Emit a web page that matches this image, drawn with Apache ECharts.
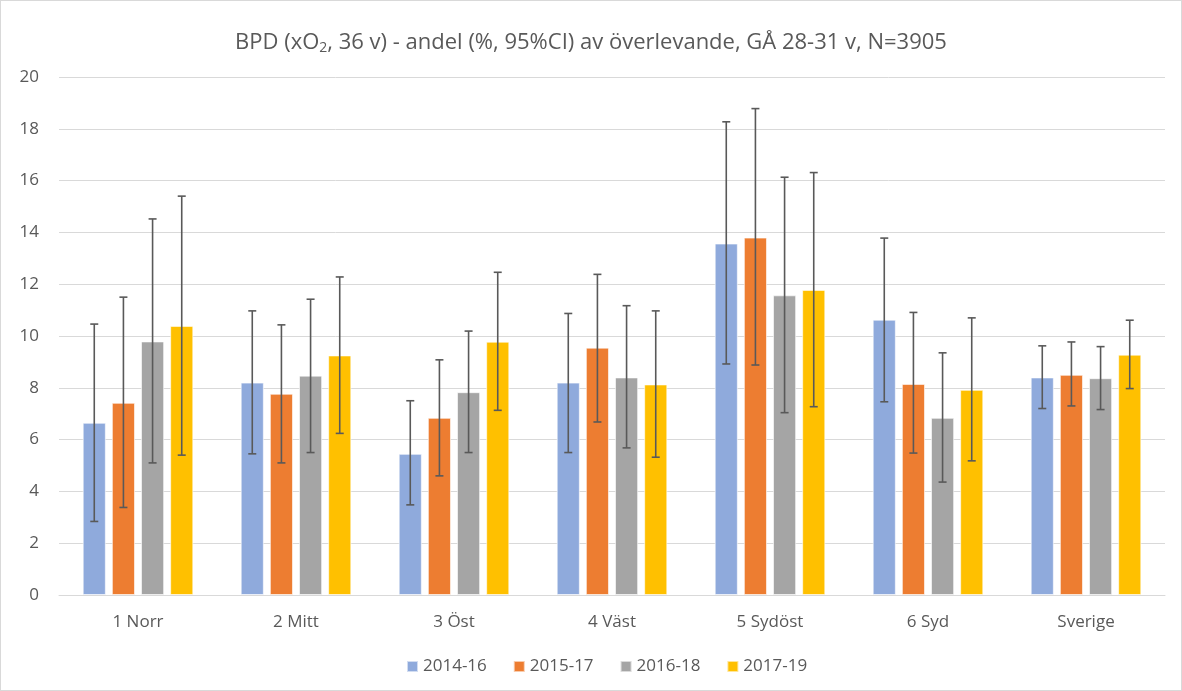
<!DOCTYPE html>
<html>
<head>
<meta charset="utf-8">
<title>BPD andel per region</title>
<script src="https://cdn.jsdelivr.net/npm/echarts@6/dist/echarts.min.js"></script>
<style>
  html, body { margin: 0; padding: 0; background: #fff; }
  #chart { width: 1182px; height: 691px; box-sizing: border-box; border: 1px solid #d9d9d9; }
</style>
</head>
<body>
<div id="chart"></div>
<script>
// Regions and reporting periods
const categories = ['1 Norr', '2 Mitt', '3 Öst', '4 Väst', '5 Sydöst', '6 Syd', 'Sverige'];
const periods = ['2014-16', '2015-17', '2016-18', '2017-19'];
const colors = ['#8faadc', '#ed7d31', '#a5a5a5', '#ffc000'];

// Share (%) per period, one value per region
const values2014 = [6.65, 8.2, 5.45, 8.2, 13.57, 10.63, 8.4];
const values2015 = [7.42, 7.77, 6.84, 9.55, 13.8, 8.15, 8.5];
const values2016 = [9.79, 8.47, 7.83, 8.4, 11.57, 6.84, 8.37];
const values2017 = [10.39, 9.25, 9.78, 8.13, 11.78, 7.92, 9.28];

// 95% CI lower bounds
const low2014 = [2.84, 5.45, 3.48, 5.5, 8.92, 7.46, 7.2];
const low2015 = [3.38, 5.1, 4.6, 6.68, 8.88, 5.48, 7.3];
const low2016 = [5.1, 5.5, 5.5, 5.68, 7.04, 4.36, 7.16];
const low2017 = [5.4, 6.24, 7.13, 5.32, 7.27, 5.18, 7.97];

// 95% CI upper bounds
const high2014 = [10.46, 10.97, 7.5, 10.87, 18.27, 13.78, 9.62];
const high2015 = [11.5, 10.43, 9.08, 12.38, 18.78, 10.91, 9.77];
const high2016 = [14.52, 11.42, 10.19, 11.17, 16.13, 9.35, 9.59];
const high2017 = [15.4, 12.28, 12.46, 10.97, 16.31, 10.7, 10.61];

// Y axis ticks
const yMin = 0, yMax = 20, yStep = 2;

const valueSets = [values2014, values2015, values2016, values2017];
const lowSets = [low2014, low2015, low2016, low2017];
const highSets = [high2014, high2015, high2016, high2017];

const FONT = 'Open Sans, Noto Sans, sans-serif';
const TEXT_COLOR = '#595959';
const CATEGORY_GAP = 0.30;   // fraction of band left empty
const BAR_GAP = 0.26;        // gap between bars, fraction of bar width

function errorRenderer(seriesIndex) {
  return function (params, api) {
    const cat = api.value(0);
    const lo = api.value(1);
    const hi = api.value(2);
    const band = api.size([1, 0])[0];
    const barW = band * (1 - CATEGORY_GAP) / (4 + 3 * BAR_GAP);
    const pitch = barW * (1 + BAR_GAP);
    const offset = (seriesIndex - 1.5) * pitch;
    const pLo = api.coord([cat, lo]);
    const pHi = api.coord([cat, hi]);
    const x = pLo[0] + offset;
    const cap = 4;
    const style = { stroke: '#595959', lineWidth: 1.6 };
    return {
      type: 'group',
      children: [
        { type: 'line', shape: { x1: x, y1: pHi[1], x2: x, y2: pLo[1] }, style: style },
        { type: 'line', shape: { x1: x - cap, y1: pHi[1], x2: x + cap, y2: pHi[1] }, style: style },
        { type: 'line', shape: { x1: x - cap, y1: pLo[1], x2: x + cap, y2: pLo[1] }, style: style }
      ]
    };
  };
}

const barSeries = periods.map((name, i) => ({
  name: name,
  type: 'bar',
  data: valueSets[i],
  barGap: (BAR_GAP * 100) + '%',
  barCategoryGap: (CATEGORY_GAP * 100) + '%',
  itemStyle: { color: colors[i], borderColor: 'rgba(255,255,255,0.6)', borderWidth: 1 },
  emphasis: { disabled: true },
  z: 2
}));

const errorSeries = periods.map((name, i) => ({
  name: name + ' CI',
  type: 'custom',
  renderItem: errorRenderer(i),
  data: categories.map((c, k) => [k, lowSets[i][k], highSets[i][k]]),
  encode: { x: 0, y: [1, 2] },
  z: 5,
  silent: true
}));

const chart = echarts.init(document.getElementById('chart'), null, { renderer: 'canvas' });
chart.setOption({
  animation: false,
  backgroundColor: '#ffffff',
  textStyle: { fontFamily: FONT },
  title: {
    text: 'BPD (xO{sub|2}, 36 v) - andel (%, 95%CI) av överlevande, GÅ 28-31 v, N=3905',
    left: 'center',
    top: 25,
    textStyle: {
      fontSize: 22,
      fontWeight: 'normal',
      color: TEXT_COLOR,
      fontFamily: FONT,
      rich: {
        sub: { fontSize: 14, color: TEXT_COLOR, fontFamily: FONT, verticalAlign: 'bottom', padding: [10, 0, 0, 0] }
      }
    }
  },
  legend: {
    data: periods,
    top: 652,
    left: 400,
    icon: 'rect',
    itemWidth: 11,
    itemHeight: 11,
    itemGap: 26,
    textStyle: { fontSize: 17, color: TEXT_COLOR, fontFamily: FONT }
  },
  grid: { left: 58, right: 16, top: 76, bottom: 95, containLabel: false },
  xAxis: {
    type: 'category',
    data: categories,
    axisTick: { show: false },
    axisLine: { lineStyle: { color: '#d9d9d9', width: 1 } },
    axisLabel: { fontSize: 17, color: TEXT_COLOR, margin: 19, fontFamily: FONT }
  },
  yAxis: {
    type: 'value',
    min: yMin,
    max: yMax,
    interval: yStep,
    axisLine: { show: false },
    axisTick: { show: false },
    axisLabel: { fontSize: 17, color: TEXT_COLOR, margin: 20, fontFamily: FONT },
    splitLine: { lineStyle: { color: '#d9d9d9', width: 1 } }
  },
  series: barSeries.concat(errorSeries)
});
</script>
</body>
</html>
